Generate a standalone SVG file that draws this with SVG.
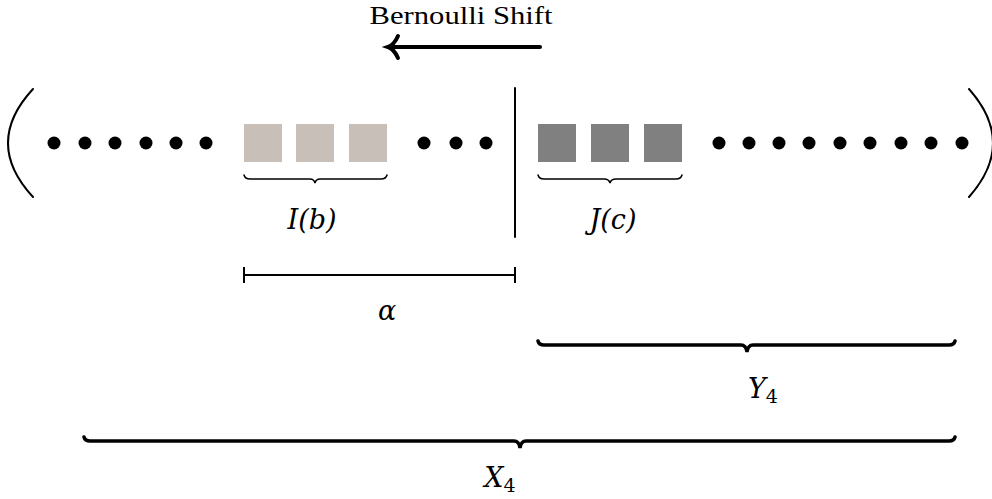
<svg xmlns="http://www.w3.org/2000/svg" width="992" height="499" viewBox="0 0 992 499">
<style>
.dot{fill:#000}
.ln{stroke:#000;fill:none;stroke-linecap:round}
.math{font-family:"DejaVu Serif","Liberation Serif",serif;font-style:italic;font-size:27px;fill:#000}
.rm{font-family:"Liberation Serif","DejaVu Serif",serif;font-size:25px;fill:#000}
.light{fill:#c8bfb9}
.dark{fill:#808080}
</style>
<rect width="992" height="499" fill="#fff"/>
<g id="title">
<text class="rm" x="461" y="24" text-anchor="middle" textLength="183" lengthAdjust="spacingAndGlyphs">Bernoulli Shift</text>
</g>
<g id="connectors">
<line class="ln" x1="540" y1="47" x2="390" y2="47" stroke-width="4"/>
<path class="ln" d="M398,36 Q394,45 388,47 Q394,49 398,58" stroke-width="4"/>
<line class="ln" x1="515" y1="88" x2="515" y2="237" stroke-width="2"/>
<line x1="244" y1="275" x2="515" y2="275" stroke="#000" stroke-width="2"/>
<line x1="244" y1="267" x2="244" y2="283" stroke="#000" stroke-width="2"/>
<line x1="515" y1="267" x2="515" y2="283" stroke="#000" stroke-width="2"/>
</g>
<g id="parens">
<path class="ln" d="M33,89 Q-17,143 33,197" stroke-width="2"/>
<path class="ln" d="M969,89 Q1017,143 969,197" stroke-width="2"/>
</g>
<g id="left-dots">
<circle class="dot" cx="54" cy="143" r="6.5"/>
<circle class="dot" cx="85" cy="143" r="6.5"/>
<circle class="dot" cx="115" cy="143" r="6.5"/>
<circle class="dot" cx="146" cy="143" r="6.5"/>
<circle class="dot" cx="176" cy="143" r="6.5"/>
<circle class="dot" cx="206" cy="143" r="6.5"/>
</g>
<g id="I-block">
<rect class="light" x="244" y="124" width="38" height="38"/>
<rect class="light" x="296" y="124" width="38" height="38"/>
<rect class="light" x="349" y="124" width="38" height="38"/>
<path class="ln" d="M244,175 Q245,179 250,179 H310 Q314,179 315,183 Q316,179 320,179 H381 Q386,179 387,175" stroke-width="1.5"/>
<text class="math" x="312" y="229" text-anchor="middle">I(b)</text>
</g>
<g id="mid-dots">
<circle class="dot" cx="424" cy="143" r="6.5"/>
<circle class="dot" cx="456" cy="143" r="6.5"/>
<circle class="dot" cx="486" cy="143" r="6.5"/>
</g>
<g id="J-block">
<rect class="dark" x="538" y="124" width="38" height="38"/>
<rect class="dark" x="591" y="124" width="38" height="38"/>
<rect class="dark" x="644" y="124" width="38" height="38"/>
<path class="ln" d="M538,175 Q539,179 544,179 H604 Q609,179 610,183 Q611,179 616,179 H676 Q681,179 682,175" stroke-width="1.5"/>
<text class="math" x="613" y="229" text-anchor="middle">J(c)</text>
</g>
<g id="right-dots">
<circle class="dot" cx="719" cy="143" r="6.5"/>
<circle class="dot" cx="749" cy="143" r="6.5"/>
<circle class="dot" cx="779" cy="143" r="6.5"/>
<circle class="dot" cx="809" cy="143" r="6.5"/>
<circle class="dot" cx="840" cy="143" r="6.5"/>
<circle class="dot" cx="870" cy="143" r="6.5"/>
<circle class="dot" cx="901" cy="143" r="6.5"/>
<circle class="dot" cx="931" cy="143" r="6.5"/>
<circle class="dot" cx="962" cy="143" r="6.5"/>
</g>
<g id="alpha">
<text class="math" x="387" y="320" text-anchor="middle">α</text>
</g>
<g id="Y4">
<path class="ln" d="M538,341 Q539,345 544,345 H741 Q746,345 747,352 Q748,345 753,345 H949 Q954,345 955,341" stroke-width="3.5"/>
<text class="math" x="763" y="398" text-anchor="middle">Y<tspan font-style="normal" font-size="19" dy="5">4</tspan></text>
</g>
<g id="X4">
<path class="ln" d="M84,437 Q85,441 90,441 H514 Q519,441 520,448 Q521,441 526,441 H949 Q954,441 955,437" stroke-width="3.5"/>
<text class="math" x="500" y="487" text-anchor="middle">X<tspan font-style="normal" font-size="19" dy="5">4</tspan></text>
</g>
</svg>
